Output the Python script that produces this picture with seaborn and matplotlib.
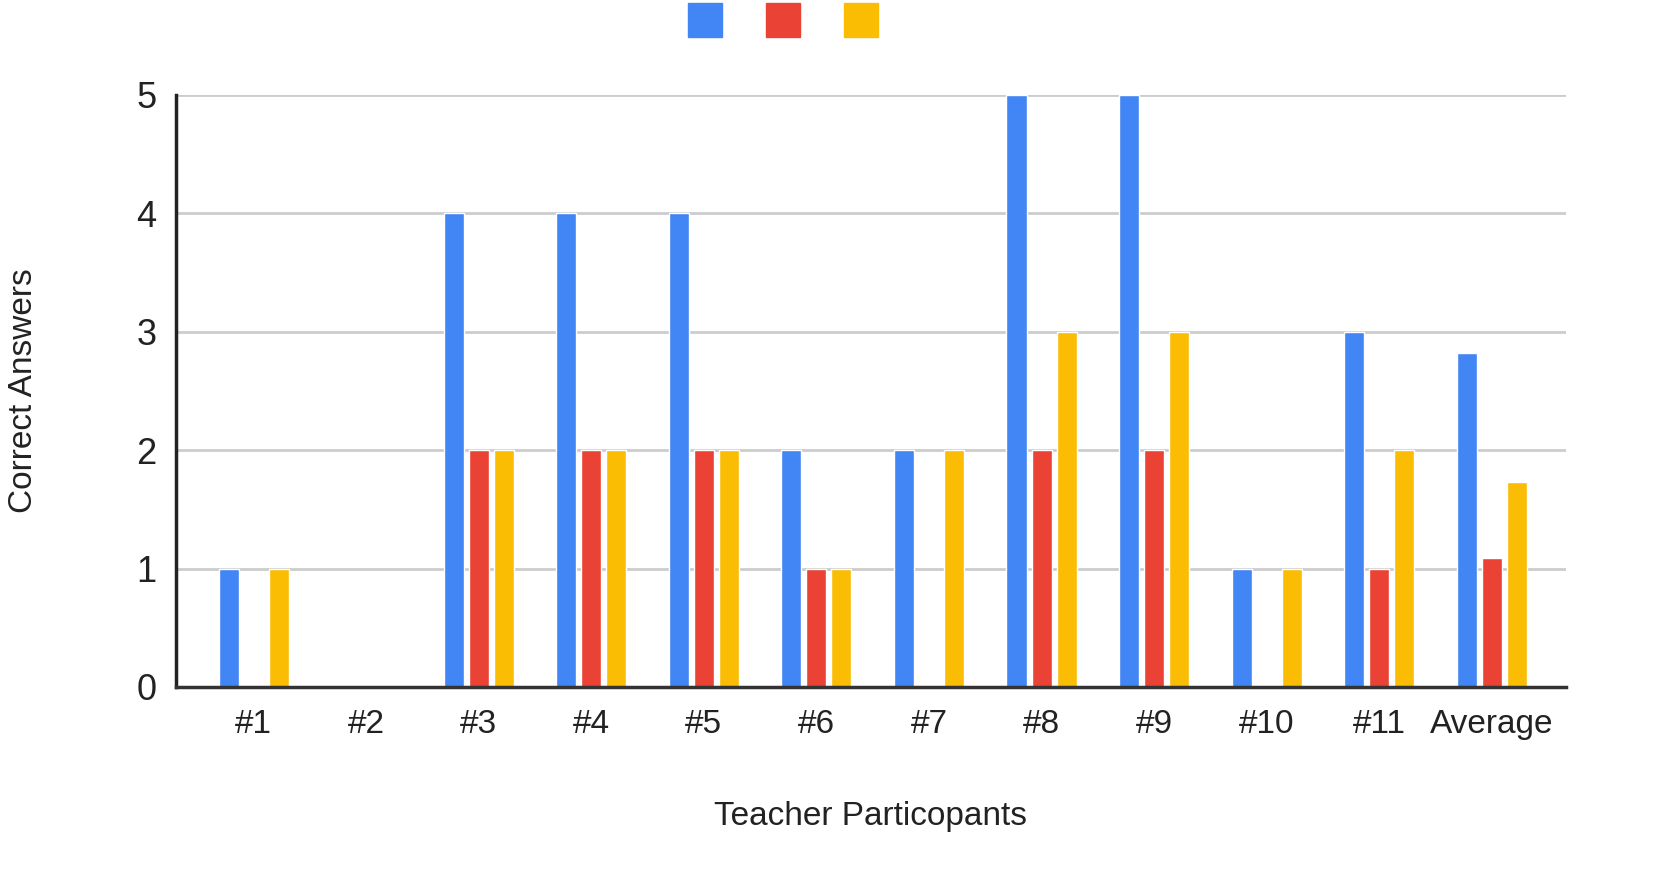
import seaborn as sns
import matplotlib.pyplot as plt
import pandas as pd
from matplotlib.lines import Line2D

participants = ['#1', '#2', '#3', '#4', '#5', '#6', '#7', '#8', '#9', '#10', '#11', 'Average']
series_a = [1, 0, 4, 4, 4, 2, 2, 5, 5, 1, 3, 2.82]
series_b = [0, 0, 2, 2, 2, 1, 0, 2, 2, 0, 1, 1.09]
series_c = [1, 0, 2, 2, 2, 1, 2, 3, 3, 1, 2, 1.73]
series_names = ['A', 'B', 'C']
colors = ['#4285f4', '#ea4335', '#fbbc04']

df = pd.DataFrame({
    'participant': participants * 3,
    'series': [n for n in series_names for _ in participants],
    'value': series_a + series_b + series_c,
})

sns.set_style('white')
plt.rcParams['font.family'] = ['Liberation Sans', 'DejaVu Sans']

fig = plt.figure(figsize=(16.63, 8.82), dpi=100)
ax = fig.add_axes([0.1058, 0.2211, 0.8359, 0.6712])

sns.barplot(data=df, x='participant', y='value', hue='series', palette=colors,
            width=0.667, gap=0.2, saturation=1, legend=False, ax=ax)

ax.set_ylim(0, 5)
ax.set_xlim(-0.69, 11.66)
ax.set_yticks([0, 1, 2, 3, 4, 5])
ax.yaxis.grid(True, color='#cccccc', linewidth=2)
ax.set_axisbelow(True)
for s in ['top', 'right']:
    ax.spines[s].set_visible(False)
ax.spines['left'].set_linewidth(2.5)
ax.spines['left'].set_color('#222222')
ax.spines['bottom'].set_linewidth(2.5)
ax.spines['bottom'].set_color('#333333')
ax.tick_params(axis='y', labelsize=26, length=0, pad=14, colors='#222222')
ax.tick_params(axis='x', labelsize=24, length=0, pad=16, colors='#222222')
ax.set_xlabel('Teacher Particopants', fontsize=24, labelpad=44, color='#222222')
ax.set_ylabel('Correct Answers', fontsize=24, labelpad=70, color='#222222')

handles = [Line2D([], [], marker='s', linestyle='none', markersize=24,
                  markerfacecolor=c, markeredgecolor=c) for c in colors]
fig.legend(handles, ['', '', ''], ncol=3, loc='center', bbox_to_anchor=(0.471, 0.976),
           frameon=False, handlelength=1, handletextpad=0, columnspacing=4.6)

plt.savefig('out.png')
